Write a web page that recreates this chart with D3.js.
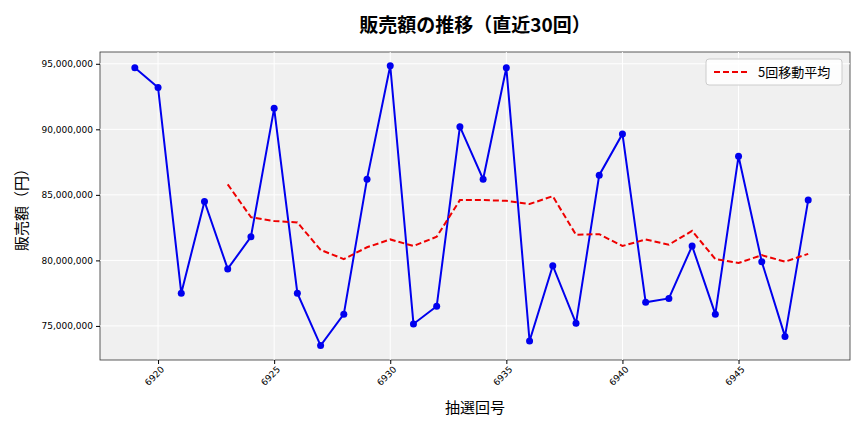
<!DOCTYPE html>
<html><head><meta charset="utf-8">
<script src="https://cdn.jsdelivr.net/npm/d3@7"></script>
<style>body{margin:0;background:#fff;font-family:"Noto Sans CJK JP","Noto Sans",sans-serif;}</style>
</head><body><svg id="chart" width="864" height="432"></svg>
<script>
var rounds = d3.range(6919, 6949);
var sales = [94.7,93.2,77.5,84.5,79.35,81.8,91.6,77.5,73.5,75.9,86.2,94.85,75.15,76.5,90.2,86.2,94.7,73.85,79.6,75.2,86.5,89.65,76.8,77.1,81.1,75.9,87.95,79.9,74.2,84.6].map(function(v){return v*1e6;});
var maRounds = d3.range(6923, 6949);
var ma = [85.8,83.3,83.0,82.9,80.8,80.1,81.0,81.6,81.1,81.8,84.6,84.6,84.55,84.3,84.9,81.95,82.0,81.1,81.6,81.2,82.25,80.1,79.8,80.4,79.9,80.5].map(function(v){return v*1e6;});
var xTicks = [6920,6925,6930,6935,6940,6945];
var yTicks = [75e6,80e6,85e6,90e6,95e6];

var m = {left:100, right:14, top:52, bottom:72};
var W = 864, H = 432;
var svg = d3.select("#chart");
var x = d3.scaleLinear().domain([6917.5, 6949.8]).range([m.left, W-m.right]);
var y = d3.scaleLinear().domain([72.4e6, 95.9e6]).range([H-m.bottom, m.top]);

svg.append("rect").attr("x",m.left).attr("y",m.top).attr("width",W-m.left-m.right).attr("height",H-m.top-m.bottom).attr("fill","#f0f0f0").attr("stroke","#333").attr("stroke-width",0.8);
svg.selectAll(".gx").data(xTicks).enter().append("line").attr("x1",x).attr("x2",x).attr("y1",m.top).attr("y2",H-m.bottom).attr("stroke","#fff");
svg.selectAll(".gy").data(yTicks).enter().append("line").attr("y1",y).attr("y2",y).attr("x1",m.left).attr("x2",W-m.right).attr("stroke","#fff");

var fmt = d3.format(",");
var ya = svg.append("g").attr("transform","translate("+m.left+",0)").call(d3.axisLeft(y).tickValues(yTicks).tickFormat(fmt).tickSize(4));
ya.select(".domain").remove();
ya.selectAll("text").style("font-size","9px").style("font-family","DejaVu Sans");
var xa = svg.append("g").attr("transform","translate(0,"+(H-m.bottom)+")").call(d3.axisBottom(x).tickValues(xTicks).tickFormat(d3.format("d")).tickSize(4));
xa.select(".domain").remove();
xa.selectAll("text").style("font-size","9px").style("font-family","DejaVu Sans").attr("text-anchor","end").attr("dx","-0.3em").attr("dy","0.5em").attr("transform","rotate(-45)");

svg.append("path").datum(rounds).attr("fill","none").attr("stroke","#0000ee").attr("stroke-width",2)
  .attr("d", d3.line().x(function(d){return x(d);}).y(function(d,i){return y(sales[i]);}));
svg.selectAll(".dot").data(rounds).enter().append("circle").attr("cx",function(d){return x(d);}).attr("cy",function(d,i){return y(sales[i]);}).attr("r",3.5).attr("fill","#0000ee");
svg.append("path").datum(maRounds).attr("fill","none").attr("stroke","#ee0000").attr("stroke-width",2).attr("stroke-dasharray","6,3")
  .attr("d", d3.line().x(function(d){return x(d);}).y(function(d,i){return y(ma[i]);}));

svg.append("text").attr("x",(m.left+W-m.right)/2).attr("y",32).attr("text-anchor","middle").style("font-size","19px").style("font-weight","bold").text("販売額の推移（直近30回）");
svg.append("text").attr("x",(m.left+W-m.right)/2).attr("y",413).attr("text-anchor","middle").style("font-size","15px").text("抽選回号");
svg.append("text").attr("transform","translate(27,"+((m.top+H-m.bottom)/2)+") rotate(-90)").attr("text-anchor","middle").style("font-size","15px").text("販売額（円）");

var lg = svg.append("g").attr("transform","translate(706,59)");
lg.append("rect").attr("width",136).attr("height",26).attr("rx",3).attr("fill","#fff").attr("fill-opacity",0.85).attr("stroke","#ccc");
lg.append("line").attr("x1",8).attr("x2",44).attr("y1",13).attr("y2",13).attr("stroke","#ee0000").attr("stroke-width",2).attr("stroke-dasharray","6,3");
lg.append("text").attr("x",52).attr("y",18).style("font-size","13px").text("5回移動平均");
</script></body></html>
